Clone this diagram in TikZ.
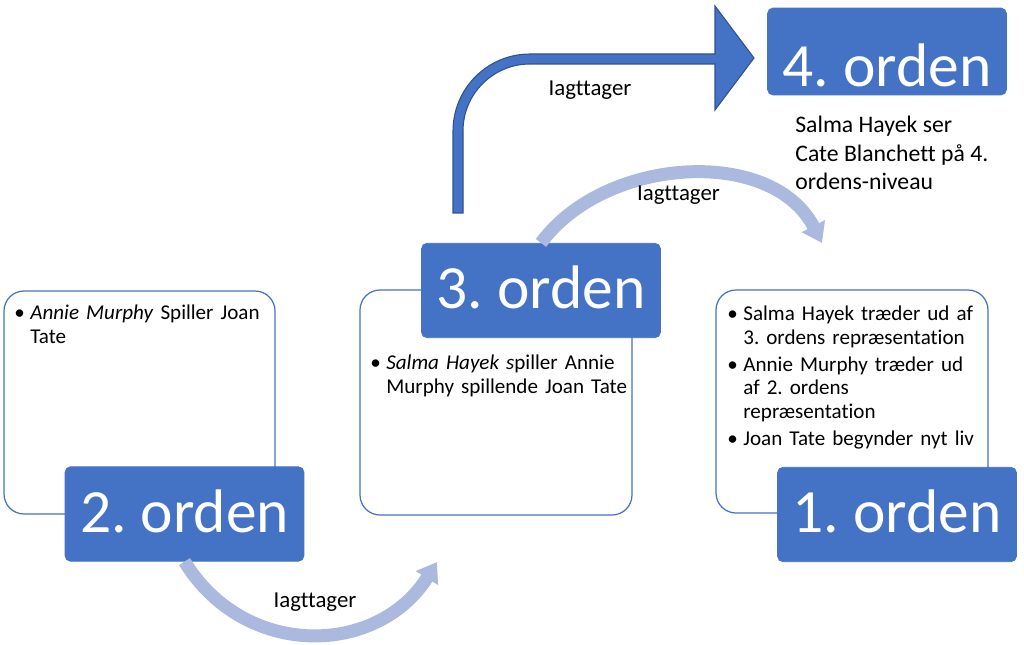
\documentclass[tikz,border=0pt]{standalone}
\usepackage{fontspec}
\setmainfont{Carlito}[Ligatures=NoCommon]
\usetikzlibrary{arrows.meta}
\frenchspacing

\definecolor{ordblue}{HTML}{4472C4}
\definecolor{ordline}{HTML}{2F528F}
\definecolor{lysblaa}{RGB}{172,185,222}

\newcommand{\punkt}{\par\noindent\hangindent=0.32cm\hangafter=1\makebox[0.32cm][l]{\textbullet}}
\newcommand{\nytpunkt}{\par\vspace{2.3pt}\punkt}

\tikzset{
  orden/.style={fill=ordblue, draw=ordblue, rounded corners=0.11cm, text=white,
    inner sep=0pt, minimum width=4.78cm, text height=1.31cm, text depth=0.58cm,
    font=\fontsize{35}{40}\selectfont},
  ramme/.style={draw=ordblue, fill=white, line width=0.7pt, rounded corners=0.4cm},
  tekst/.style={anchor=north west, inner sep=0pt, text width=6cm, align=left,
    font=\fontsize{12}{13.3}\selectfont},
  lag/.style={inner sep=0pt, font=\fontsize{13}{15}\selectfont},
  lyspil/.style={draw=lysblaa, line width=0.26cm,
    -{Triangle[length=0.38cm,width=0.5cm]}}
}

\begin{document}
\begin{tikzpicture}[x=0.02cm,y=-0.02cm]
\useasboundingbox (0,0) rectangle (1024,645);

% rammer bag ordenerne
\foreach \xa/\ya/\xb/\yb in {4/291/275/514, 360/290/632/515, 716/290/988/513}
	\draw[ramme] (\xa,\ya) rectangle (\xb,\yb);

\foreach \n/\x/\y in {2/184.5/514, 3/541/290.5, 1/897/514.5}
	\node[orden] (o\n) at (\x,\y) {\n. orden};
\node[orden, text height=1.58cm, text depth=0.16cm] (o4) at (887,51.5) {4. orden};

% punkter
\node[tekst] (t2) at (14,296) {\punkt\textit{Annie Murphy} Spiller Joan\newline Tate\par};
\node[tekst] (t3) at (370,346) {\punkt\textit{Salma Hayek s}piller Annie\newline Murphy spillende Joan Tate\par};
\node[tekst] (t1) at (727,297) {\punkt Salma Hayek træder ud af\newline 3. ordens repræsentation\nytpunkt Annie Murphy træder ud\newline af 2. ordens\newline repræsentation\nytpunkt Joan Tate begynder nyt liv\par};
\node[anchor=north west, inner sep=0pt, align=left, font=\fontsize{13.5}{16.2}\selectfont] (t4) at (795,116)
	{Salma Hayek ser\\Cate Blanchett på 4.\\ordens-niveau};

% pile
\coordinate (slut2) at (437,562);
\coordinate (slut3) at (822,243);
\draw[lyspil] (o2.south) .. controls (245,660) and (378,656) .. (slut2);
\draw[lyspil] (o3.north) .. controls (605,156) and (772,146) .. (slut3);
\filldraw[fill=ordblue, draw=ordline, line width=0.6pt] (453,213) -- (453,131)
	arc[start angle=180, end angle=270, radius=77] -- (715,54) -- (715,6) -- (754,58)
	-- (715,110) -- (715,64) -- (530,64) arc[start angle=270, end angle=180, radius=67]
	-- (463,213) -- cycle;

\node[lag] (l2) at (315,602) {Iagttager};
\node[lag] (l3) at (678.5,195) {Iagttager};
\node[lag] (l4) at (590,90.5) {Iagttager};
\end{tikzpicture}
\end{document}
